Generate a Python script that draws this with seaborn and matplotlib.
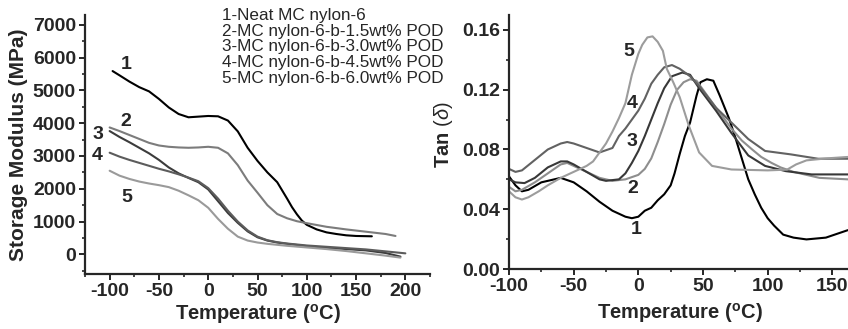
import numpy as np
import pandas as pd
import matplotlib
matplotlib.use("Agg")
import matplotlib.pyplot as plt
from matplotlib.ticker import MultipleLocator
import seaborn as sns

# ─────────────────────────────────────────
# Data
# ─────────────────────────────────────────
legend_lines = [
    "1-Neat MC nylon-6",
    "2-MC nylon-6-b-1.5wt% POD",
    "3-MC nylon-6-b-3.0wt% POD",
    "4-MC nylon-6-b-4.5wt% POD",
    "5-MC nylon-6-b-6.0wt% POD",
]
curve_ids = ["1", "2", "3", "4", "5"]

# storage modulus (MPa) vs temperature (C)
sm_t1 = [-97, -90, -80, -70, -60, -50, -40, -30, -20, -10, 0, 10, 20, 30, 40, 50, 60, 70, 75, 80, 85, 90, 95, 100, 110, 120, 130, 140, 150, 166]
sm_e1 = [5590, 5460, 5270, 5100, 4970, 4740, 4480, 4280, 4180, 4200, 4220, 4210, 4080, 3750, 3250, 2850, 2500, 2200, 1950, 1700, 1440, 1220, 1030, 900, 760, 670, 620, 580, 560, 550]
sm_t2 = [-100, -90, -80, -70, -60, -50, -40, -30, -20, -10, 0, 10, 20, 30, 40, 50, 60, 70, 80, 90, 100, 120, 140, 160, 180, 190]
sm_e2 = [3870, 3760, 3640, 3520, 3400, 3320, 3280, 3260, 3250, 3260, 3280, 3250, 3080, 2720, 2250, 1880, 1500, 1230, 1100, 1010, 950, 840, 760, 690, 620, 560]
sm_t3 = [-100, -90, -80, -70, -60, -50, -40, -30, -20, -10, 0, 10, 20, 30, 40, 50, 60, 70, 80, 100, 120, 140, 160, 180, 195]
sm_e3 = [3760, 3580, 3420, 3250, 3080, 2880, 2650, 2470, 2330, 2200, 1980, 1620, 1260, 960, 700, 520, 420, 360, 320, 250, 200, 160, 120, 40, -70]
sm_t4 = [-100, -90, -80, -70, -60, -50, -40, -30, -20, -10, 0, 10, 20, 30, 40, 50, 60, 70, 80, 100, 120, 140, 160, 180, 200]
sm_e4 = [3100, 2980, 2880, 2790, 2700, 2610, 2530, 2440, 2340, 2230, 2020, 1700, 1330, 1000, 730, 540, 430, 370, 330, 270, 230, 190, 150, 90, 30]
sm_t5 = [-100, -90, -80, -70, -60, -50, -40, -30, -20, -10, 0, 10, 20, 30, 40, 50, 60, 80, 100, 120, 140, 160, 180, 195]
sm_e5 = [2550, 2400, 2300, 2220, 2160, 2110, 2050, 1940, 1800, 1650, 1420, 1080, 780, 540, 420, 360, 320, 260, 210, 160, 100, 30, -40, -100]

# tan delta vs temperature (C)
td_t1 = [-100, -95, -90, -85, -75, -60, -50, -40, -30, -20, -10, -5, 0, 5, 10, 15, 20, 25, 28, 32, 36, 40, 45, 48, 53, 58, 63, 70, 75, 80, 85, 90, 95, 100, 105, 112, 120, 130, 145, 162]
td_v1 = [0.062, 0.056, 0.052, 0.053, 0.058, 0.061, 0.058, 0.052, 0.045, 0.039, 0.035, 0.034, 0.035, 0.039, 0.041, 0.046, 0.050, 0.056, 0.064, 0.077, 0.089, 0.098, 0.116, 0.125, 0.127, 0.126, 0.116, 0.101, 0.088, 0.074, 0.060, 0.050, 0.041, 0.034, 0.029, 0.023, 0.021, 0.0198, 0.021, 0.026]
td_t2 = [-100, -95, -90, -80, -70, -60, -55, -50, -40, -30, -20, -10, 0, 5, 10, 15, 20, 25, 30, 35, 40, 45, 50, 60, 72, 80, 88, 95, 103, 110, 120, 140, 162]
td_v2 = [0.055, 0.052, 0.053, 0.058, 0.064, 0.070, 0.071, 0.069, 0.065, 0.061, 0.059, 0.060, 0.063, 0.067, 0.074, 0.085, 0.097, 0.110, 0.120, 0.125, 0.127, 0.126, 0.120, 0.108, 0.094, 0.086, 0.080, 0.075, 0.071, 0.068, 0.065, 0.061, 0.060]
td_t3 = [-100, -95, -88, -80, -70, -60, -55, -50, -40, -30, -25, -15, -10, -5, 0, 5, 10, 15, 20, 26, 34, 40, 47, 60, 72, 85, 98, 114, 134, 162]
td_v3 = [0.060, 0.058, 0.0575, 0.061, 0.068, 0.072, 0.072, 0.070, 0.065, 0.060, 0.059, 0.060, 0.064, 0.071, 0.079, 0.089, 0.100, 0.111, 0.121, 0.129, 0.1315, 0.130, 0.121, 0.106, 0.091, 0.076, 0.069, 0.0655, 0.0633, 0.0633]
td_t4 = [-100, -95, -90, -80, -70, -60, -55, -50, -40, -30, -20, -15, -10, 0, 5, 10, 15, 20, 26, 32, 40, 47, 60, 72, 85, 98, 118, 139, 162]
td_v4 = [0.067, 0.065, 0.066, 0.073, 0.080, 0.084, 0.085, 0.084, 0.081, 0.078, 0.081, 0.089, 0.094, 0.106, 0.114, 0.124, 0.130, 0.135, 0.1365, 0.134, 0.129, 0.1226, 0.108, 0.098, 0.087, 0.079, 0.0767, 0.0738, 0.0738]
td_t5 = [-100, -95, -90, -85, -77, -70, -60, -50, -40, -35, -30, -25, -20, -15, -10, -5, 0, 3, 7, 11, 15, 19, 22, 27, 32, 39, 47, 57, 72, 100, 115, 122, 130, 145, 162]
td_v5 = [0.052, 0.048, 0.0465, 0.048, 0.052, 0.056, 0.061, 0.065, 0.069, 0.072, 0.078, 0.084, 0.092, 0.101, 0.111, 0.130, 0.144, 0.150, 0.155, 0.1557, 0.152, 0.146, 0.134, 0.125, 0.115, 0.096, 0.078, 0.069, 0.0666, 0.066, 0.0665, 0.070, 0.0727, 0.074, 0.075]

# where the curve numbers sit (data coords)
sm_label_x = [-83, -84, -112, -113, -83]
sm_label_y = [5800, 4050, 3670, 3010, 1740]
td_label_x = [-2, -4, -5, -5, -7]
td_label_y = [0.0264, 0.0537, 0.085, 0.111, 0.1456]

sm_colors = ["#000000", "#7c7c7c", "#3c3c3c", "#5c5c5c", "#9a9a9a"]
td_colors = ["#000000", "#8e8e8e", "#383838", "#626262", "#9c9c9c"]

# ─────────────────────────────────────────
# Long-form tables for seaborn
# ─────────────────────────────────────────
sm_df = pd.concat([
    pd.DataFrame({"T": t, "E": e, "curve": c})
    for t, e, c in zip([sm_t1, sm_t2, sm_t3, sm_t4, sm_t5],
                       [sm_e1, sm_e2, sm_e3, sm_e4, sm_e5], curve_ids)
])
td_df = pd.concat([
    pd.DataFrame({"T": t, "tan": v, "curve": c})
    for t, v, c in zip([td_t1, td_t2, td_t3, td_t4, td_t5],
                       [td_v1, td_v2, td_v3, td_v4, td_v5], curve_ids)
])

# ─────────────────────────────────────────
# Style
# ─────────────────────────────────────────
sns.set_style("ticks")
plt.rcParams["font.family"] = ["Liberation Sans", "DejaVu Sans"]
plt.rcParams["mathtext.fontset"] = "custom"
plt.rcParams["mathtext.rm"] = "Liberation Sans"
plt.rcParams["mathtext.it"] = "Liberation Sans:italic"
plt.rcParams["mathtext.bf"] = "Liberation Sans:bold"

W, H = 848, 329
fig = plt.figure(figsize=(W / 100, H / 100), dpi=100)

ax1 = fig.add_axes([85 / W, 1 - 274 / H, 345 / W, 259 / H])
ax2 = fig.add_axes([509 / W, 1 - 269 / H, 388 / W, 254 / H])

sns.lineplot(data=sm_df, x="T", y="E", hue="curve", palette=sm_colors,
             estimator=None, sort=False, linewidth=1.5, legend=False, ax=ax1)
sns.lineplot(data=td_df, x="T", y="tan", hue="curve", palette=td_colors,
             estimator=None, sort=False, linewidth=1.5, legend=False, ax=ax2)

tick_font = dict(fontsize=14, fontweight="bold")
label_font = dict(fontsize=14.5, fontweight="bold")

for ax in (ax1, ax2):
    sns.despine(ax=ax)
    for s in ("left", "bottom"):
        ax.spines[s].set_linewidth(1.6)
    ax.tick_params(which="major", direction="out", length=4.5, width=1.4, pad=2)
    ax.tick_params(which="minor", direction="out", length=2.5, width=1.2)
    ax.set_xlabel(r"Temperature ($^{\mathbf{o}}$C)", **label_font)

# left panel
ax1.set_xlim(-125, 225)
ax1.set_ylim(-600, 7300)
ax1.xaxis.set_minor_locator(MultipleLocator(25))
ax1.yaxis.set_minor_locator(MultipleLocator(500))
ax1.set_xticks(np.arange(-100, 201, 50))
ax1.set_xticklabels([str(v) for v in range(-100, 201, 50)], **tick_font)
ax1.set_yticks(np.arange(0, 7001, 1000))
ax1.set_yticklabels([str(v) for v in range(0, 7001, 1000)], **tick_font)
ax1.set_ylabel("Storage Modulus (MPa)", fontsize=15, fontweight="bold")
ax1.yaxis.set_label_coords(-0.165, 0.5)
ax1.xaxis.set_label_coords(0.5, -0.11)

for lx, ly, c in zip(sm_label_x, sm_label_y, curve_ids):
    ax1.text(lx, ly, c, fontsize=14, fontweight="bold", ha="center", va="center")

# right panel
ax2.set_xlim(-100, 200)
ax2.set_ylim(0, 0.17)
ax2.xaxis.set_minor_locator(MultipleLocator(25))
ax2.yaxis.set_minor_locator(MultipleLocator(0.02))
ax2.set_xticks(np.arange(-100, 151, 50))
ax2.set_xticklabels([str(v) for v in range(-100, 151, 50)], **tick_font)
ax2.set_yticks(np.arange(0, 0.161, 0.04))
ax2.set_yticklabels(["0.00", "0.04", "0.08", "0.12", "0.16"], **tick_font)
ax2.set_ylabel(r"Tan $(\delta)$", **label_font)
ax2.yaxis.set_label_coords(-0.14, 0.53)
ax2.xaxis.set_label_coords(0.44, -0.125)

for lx, ly, c in zip(td_label_x, td_label_y, curve_ids):
    ax2.text(lx, ly, c, fontsize=14, fontweight="bold", ha="center", va="center")

# text legend in the top of the left panel
for i, line in enumerate(legend_lines):
    fig.text(222 / W, 1 - (15.5 + i * 15.7) / H, line, fontsize=12.3,
             ha="left", va="center")

fig.savefig("out.png", dpi=100)
